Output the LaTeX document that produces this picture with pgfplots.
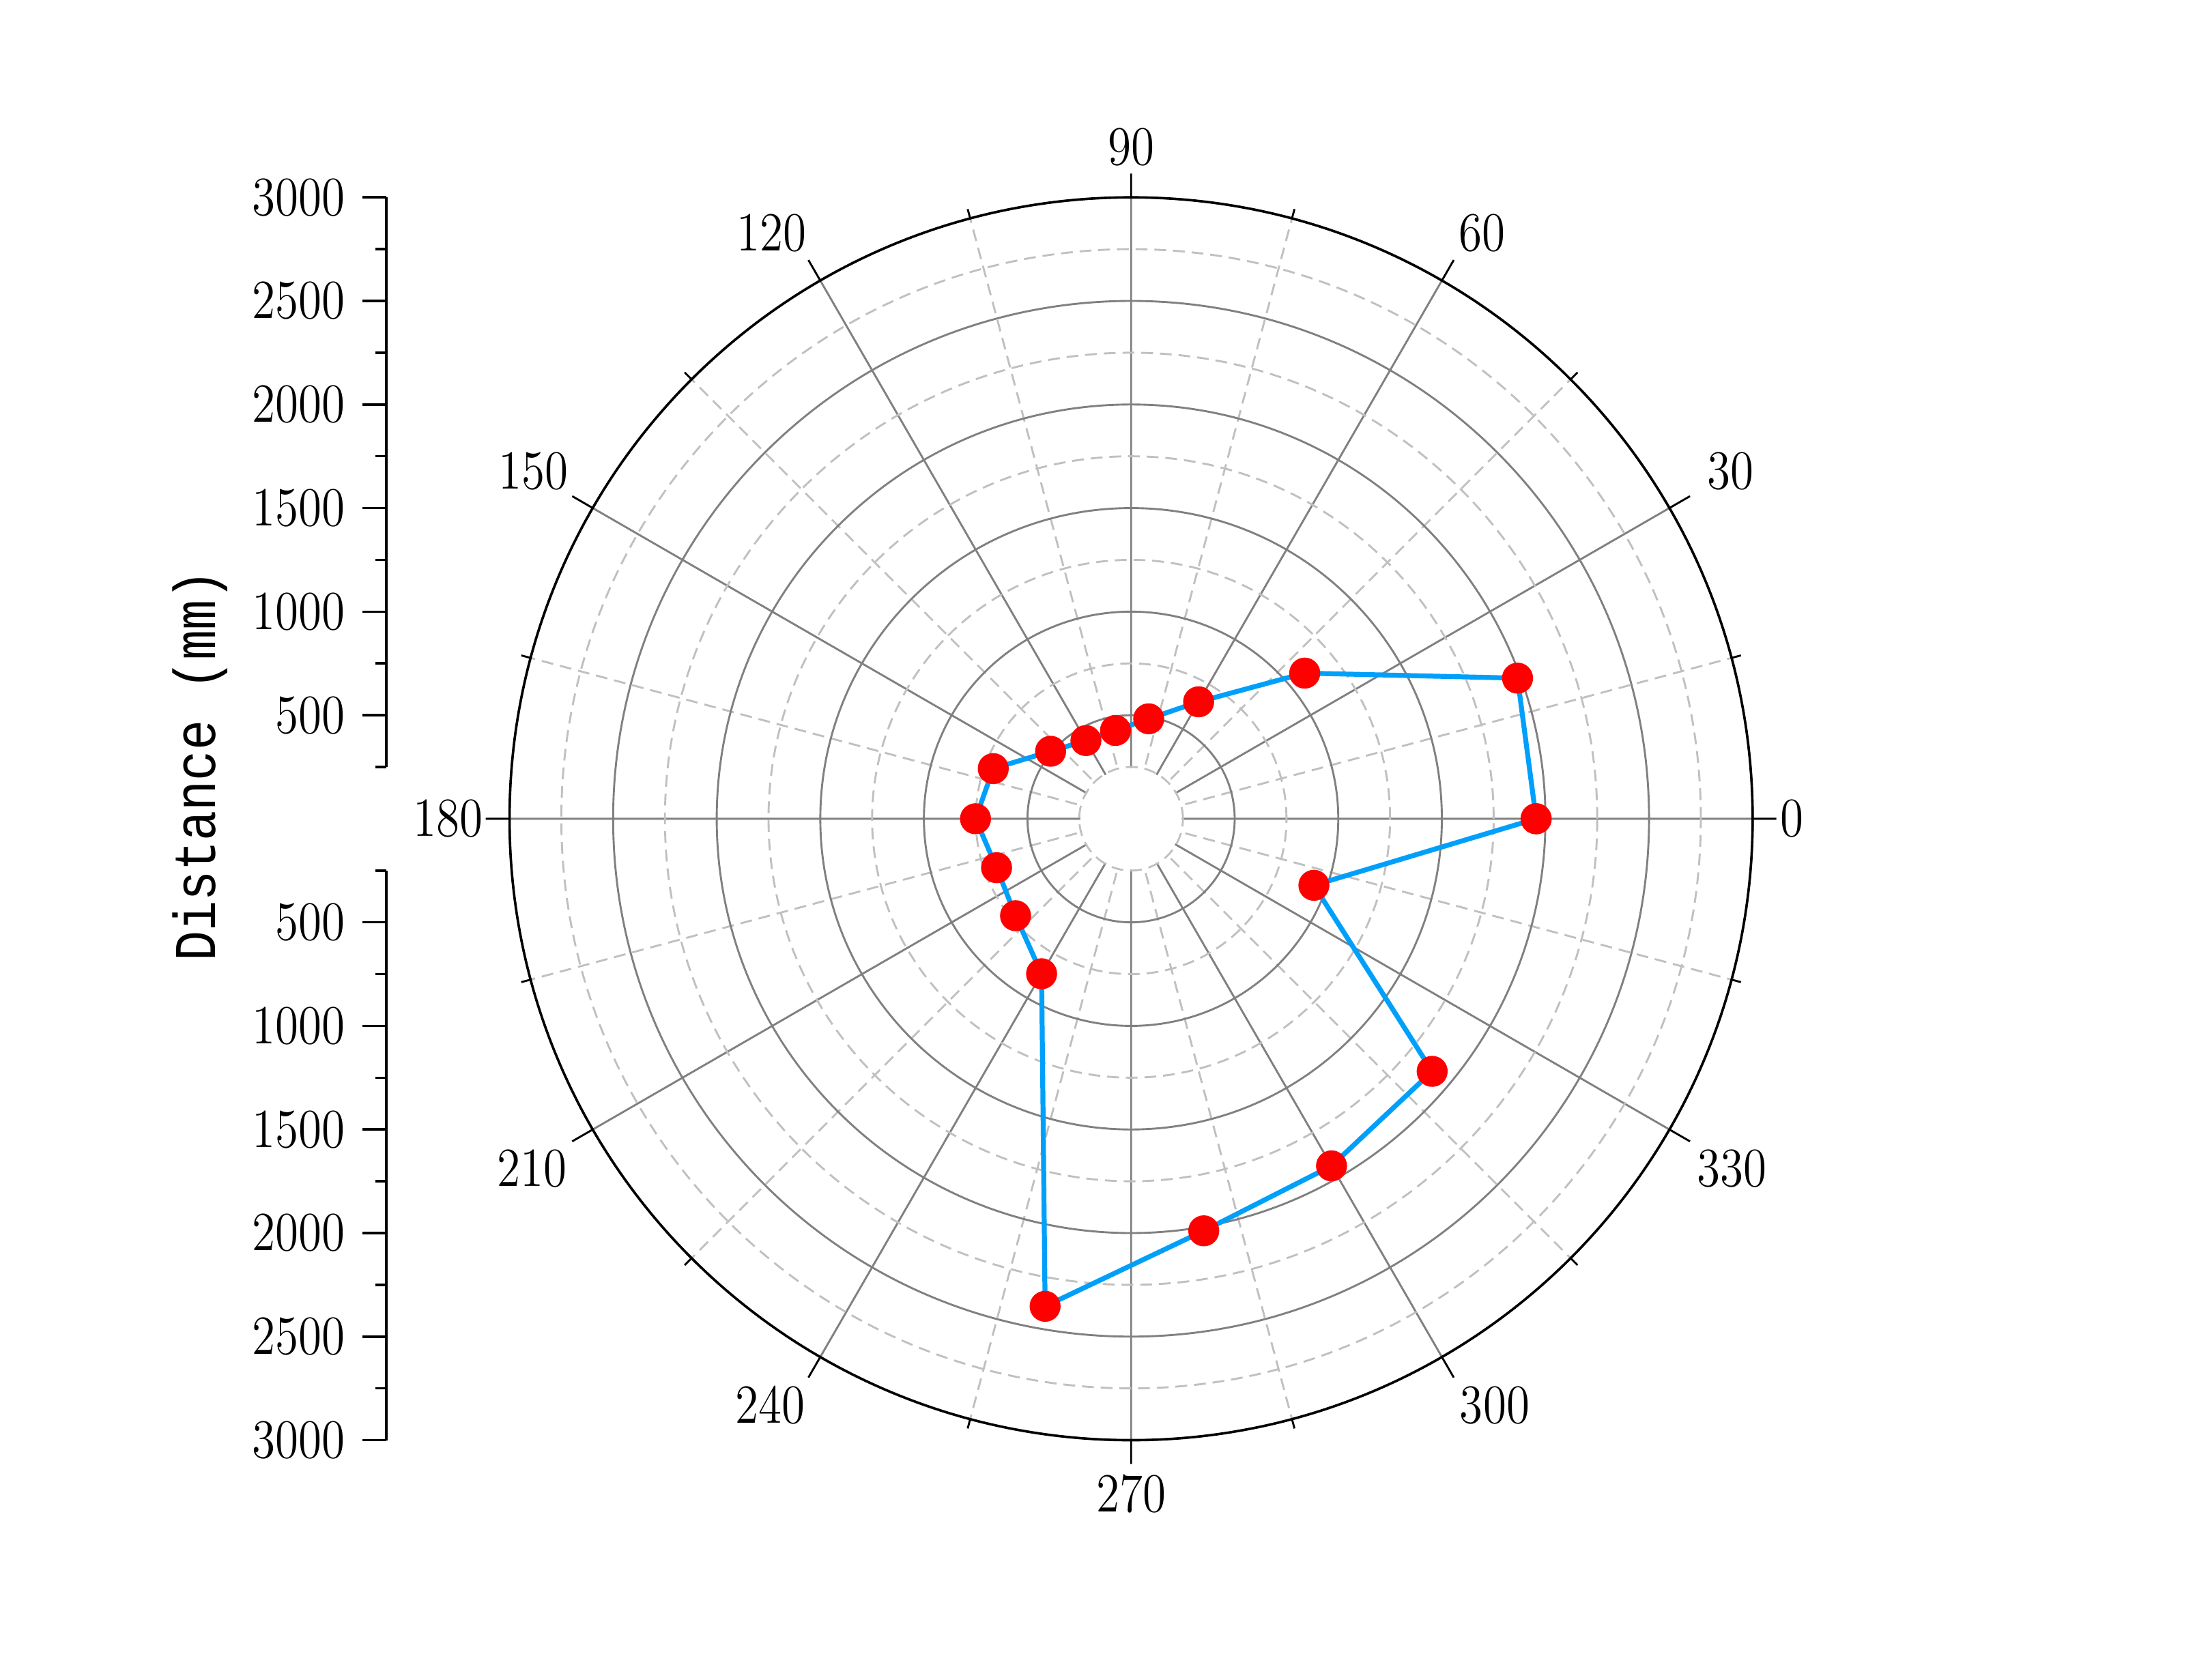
\documentclass[border=0pt]{standalone}
\usepackage{pgfplots}
\pgfplotsset{compat=1.18}
\usepgfplotslibrary{polar}
\usepackage{fontspec}
\setmainfont{Liberation Serif}
\newfontfamily\numfont[FakeStretch=0.86]{Latin Modern Roman}
\newfontfamily\labelfont[FakeStretch=0.85]{Liberation Mono}
\newcommand\numsize{\numfont\fontsize{11.2}{13}\selectfont}
\definecolor{lineblue}{RGB}{0,160,250}
\definecolor{gridmaj}{RGB}{128,128,128}
\definecolor{gridmin}{RGB}{192,192,192}
\begin{document}
\begin{tikzpicture}
\useasboundingbox (-8.08cm,-6.15cm) rectangle (7.60cm,5.85cm);
\begin{polaraxis}[
  at={(0,0)}, anchor=center,
  width=8.88cm, height=8.88cm, scale only axis,
  clip=false,
  xmin=0, xmax=360, ymin=0, ymax=3000,
  xtick={0,30,...,330},
  minor xtick={15,45,...,345},
  xticklabel=\empty,
  ytick={500,1000,...,3000},
  minor ytick={250,750,...,2750},
  yticklabel=\empty,
  ytick style={draw=none},
  xtick style={black, line width=0.4pt},
  major tick length=0.17cm,
  minor tick length=0.07cm,
  grid=both,
  major grid style={gridmaj, line width=0.4pt},
  minor grid style={gridmin, line width=0.4pt, dash pattern=on 2.4pt off 1.4pt},
  x axis line style={black, line width=0.5pt},
  y axis line style={draw=none},
]
\fill[white] (axis cs:0,0) circle[radius=0.362cm];
\addplot[lineblue, line width=1pt, mark=*, mark size=2.65pt, mark options={fill=red, draw=red, solid}] coordinates {
(0,1955) (20,1985) (40,1094) (60,652) (80,490) (100,433) (120,436) (140,507) (160,708) (180,751) (200,691) (220,728) (240,864) (260,2390) (280,2020) (300,1935) (320,1897) (340,939) (360,1955)
};
\begin{scope}[every node/.style={font=\numsize, inner sep=0pt}]
\node at (axis cs:0,3189) {0};
\node at (axis cs:30.1,3343) {30};
\node at (axis cs:59.1,3297) {60};
\node at (axis cs:90,3243) {90};
\node at (axis cs:121.5,3318) {120};
\node at (axis cs:149.85,3338) {150};
\node at (axis cs:180,3297) {180};
\node at (axis cs:210.3,3349) {210};
\node at (axis cs:238.4,3324) {240};
\node at (axis cs:270,3257) {270};
\node at (axis cs:301.8,3331) {300};
\node at (axis cs:329.8,3355) {330};
\end{scope}
\end{polaraxis}
\begin{axis}[
  at={(-5.32cm,0.37cm)}, anchor=south west,
  scale only axis, width=1cm, height=4.07cm,
  xmin=0, xmax=1, ymin=250, ymax=3000,
  axis x line=none, axis y line=left,
  y axis line style={-, black, line width=0.6pt},
  ytick={500,1000,...,3000}, minor ytick={250,750,...,2750},
  ytick align=outside, major tick length=0.17cm, minor tick length=0.08cm,
  ytick style={black, line width=0.5pt},
  yticklabel style={font=\numsize},
  scaled y ticks=false,
  /pgf/number format/1000 sep={},
  /pgf/number format/assume math mode=true,
  clip=false,
]
\end{axis}
\begin{axis}[
  at={(-5.32cm,-0.37cm)}, anchor=north west,
  scale only axis, width=1cm, height=4.07cm,
  xmin=0, xmax=1, ymin=250, ymax=3000, y dir=reverse,
  axis x line=none, axis y line=left,
  y axis line style={-, black, line width=0.6pt},
  ytick={500,1000,...,3000}, minor ytick={250,750,...,2750},
  ytick align=outside, major tick length=0.17cm, minor tick length=0.08cm,
  ytick style={black, line width=0.5pt},
  yticklabel style={font=\numsize},
  scaled y ticks=false,
  /pgf/number format/1000 sep={},
  /pgf/number format/assume math mode=true,
  clip=false,
]
\end{axis}
\node[rotate=90, font=\labelfont\fontsize{12}{14}\selectfont] at (-6.65cm,0.38cm) {Distance (mm)};
\end{tikzpicture}
\end{document}
